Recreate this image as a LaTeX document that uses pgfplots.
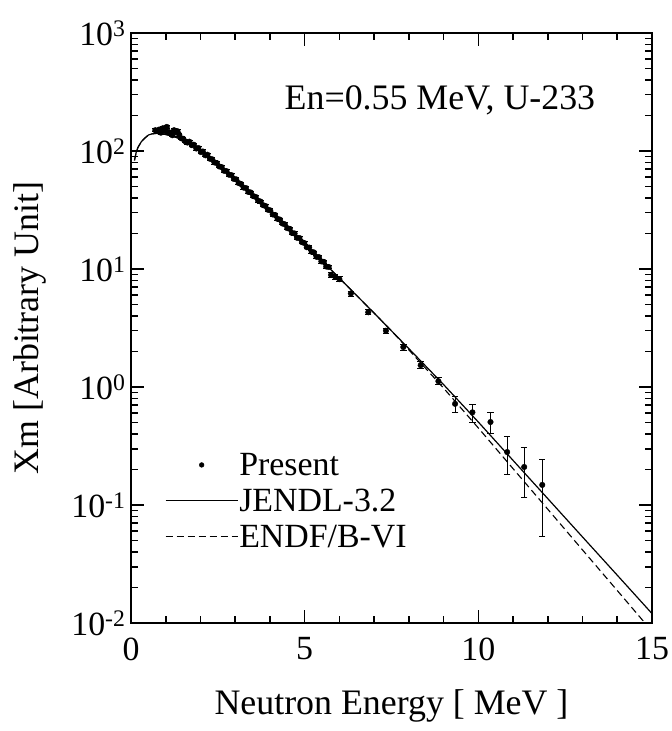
\documentclass[border=0pt]{standalone}
\usepackage{fontspec}
\setmainfont{Liberation Serif}
\usepackage{pgfplots}
\usepackage{pgfplotstable}
\pgfplotsset{compat=1.18}

\pgfplotstableread{
E y err
0.70 150 4.5
0.76 147 4.4
0.81 152 4.6
0.86 143 4.3
0.92 156 4.7
0.97 148 4.4
1.03 160 4.8
1.08 145 4.4
1.13 141 4.2
1.19 136 4.1
1.24 150 4.5
1.29 144 4.3
1.34 147 4.4
1.39 137 4.1
1.45 128 3.8
1.50 127 3.8
1.56 121 3.6
1.62 118 3.5
1.68 120 3.6
1.75 112 3.4
1.81 113 3.4
1.88 105 3.2
1.94 106 3.2
2.01 98 2.9
2.07 99 3.0
2.14 92 2.8
2.20 93 2.8
2.27 86 2.6
2.34 85 2.6
2.40 80 2.4
2.47 79 2.4
2.54 74 2.2
2.61 73 2.2
2.68 68 2.0
2.75 67.5 2.0
2.82 63 1.9
2.89 62.5 1.9
2.96 58 1.7
3.03 57.5 1.7
3.10 53.5 1.6
3.17 52.5 1.6
3.24 49 1.5
3.31 48.5 1.5
3.38 45 1.4
3.45 44.5 1.3
3.52 41.5 1.2
3.59 40.8 1.2
3.66 38 1.1
3.73 37.3 1.1
3.80 34.8 1.0
3.87 34.2 1.0
3.94 31.8 1.0
4.01 31.4 0.9
4.08 29.0 0.9
4.15 28.7 0.9
4.22 26.6 0.8
4.29 26.2 0.8
4.36 24.3 0.7
4.43 23.9 0.7
4.50 22.2 0.7
4.57 21.9 0.7
4.64 20.2 0.6
4.71 20.0 0.6
4.78 18.4 0.6
4.85 18.3 0.6
4.92 16.9 0.5
4.99 16.6 0.5
5.06 15.3 0.5
5.13 15.2 0.5
5.20 14.0 0.4
5.27 13.8 0.4
5.34 12.7 0.4
5.41 12.6 0.4
5.48 11.6 0.4
5.55 11.5 0.4
5.62 10.5 0.4
5.69 10.4 0.4
5.76 8.9 0.4
5.88 8.6 0.4
6.00 8.2 0.4
6.33 6.2 0.3
6.83 4.3 0.2
7.34 3.0 0.15
7.84 2.18 0.13
8.34 1.53 0.10
8.85 1.12 0.08
9.33 0.72 0.11
9.83 0.61 0.105
10.35 0.505 0.105
10.83 0.281 0.10
11.32 0.210 0.095
11.84 0.148 0.094
}\present

\pgfplotstableread{
E y
0.1 83.2
0.15 97.7
0.2 107.2
0.3 120.2
0.4 128.8
0.5 136.5
0.6 139.6
0.75 141.3
0.9 139.6
1.0 138.0
1.2 133.4
1.4 127.4
1.6 120.2
1.8 111.4
2.0 100.9
2.5 77.1
3.0 57.8
3.5 42.7
4.0 31.2
4.5 22.6
5.0 16.3
5.5 11.7
6.0 8.36
7.0 4.23
7.5 2.991
8.0 2.113
9.0 1.048
10 0.5047
11 0.2388
12 0.1132
13 0.05358
14 0.02541
15 0.01202
}\jendl

\pgfplotstableread{
E y
0.1 83.2
0.15 97.7
0.2 107.2
0.3 120.2
0.4 128.8
0.5 136.5
0.6 139.6
0.75 141.3
0.9 139.6
1.0 138.0
1.2 133.4
1.4 127.4
1.6 120.2
1.8 111.4
2.0 100.9
2.5 77.1
3.0 57.8
3.5 42.7
4.0 31.2
4.5 22.6
5.0 16.3
5.5 11.7
6.0 8.36
7.0 4.23
7.5 2.991
8.0 2.064
9.0 0.978
10 0.4498
11 0.2032
12 0.09204
13 0.04159
14 0.01884
15 0.008511
}\endf

\begin{document}
\begin{tikzpicture}
\begin{semilogyaxis}[
  scale only axis, width=521bp, height=590bp,
  xmin=0, xmax=15, ymin=1e-2, ymax=1e3,
  xtick={0,5,10,15}, xticklabels={0,5,10,15},
  minor xtick={1,2,3,4,6,7,8,9,11,12,13,14},
  ytick={1e-2,1e-1,1,1e1,1e2,1e3},
  yticklabels={10\textsuperscript{-2},10\textsuperscript{-1},10\textsuperscript{0},10\textsuperscript{1},10\textsuperscript{2},10\textsuperscript{3}},
  tick align=inside, major tick length=13bp, minor tick length=7bp,
  every tick/.style={black, line width=1.6bp},
  axis line style={line width=2bp},
  tick label style={font=\fontsize{34}{36}\selectfont},
  xticklabel style={yshift=-11bp},
  yticklabel style={xshift=-2bp},
  label style={font=\fontsize{36}{40}\selectfont},
  xlabel={Neutron Energy [ MeV ]},
  ylabel={Xm [Arbitrary Unit]},
  xlabel style={yshift=-22bp},
  ylabel style={yshift=18bp},
  legend image code/.code={\draw[#1] (0bp,0bp) -- (72bp,0bp);},
  legend style={draw=none, fill=none, at={(0.065,0.29)}, anchor=north west,
    font=\fontsize{34}{38}\selectfont, inner sep=0pt, row sep=10bp,
    nodes={inner sep=1bp}},
  legend cell align=left,
  clip=true,
]
\addplot+[black, only marks, mark=*, mark size=2.8bp, mark options={fill=black},
  legend image code/.code={\fill[black] (36bp,0bp) circle (2.4bp);},
  error bars/.cd, y dir=both, y explicit,
  error mark options={rotate=90, mark size=3.2bp, line width=1bp, black},
  error bar style={line width=1bp, black}]
  table[x=E, y=y, y error=err] {\present};
\addlegendentry{Present}
\addplot[black, line width=1.2bp, no marks] table[x=E, y=y] {\jendl};
\addlegendentry{JENDL-3.2}
\addplot[black, line width=1.1bp, no marks, dash pattern=on 7bp off 4bp] table[x=E, y=y] {\endf};
\addlegendentry{ENDF/B-VI}
\node[font=\fontsize{36}{40}\selectfont] at (rel axis cs:0.593,0.886) {En=0.55 MeV, U-233};
\end{semilogyaxis}
\pgfresetboundingbox
\path ([xshift=-131bp,yshift=-108bp]current axis.south west) rectangle ([xshift=20bp,yshift=33bp]current axis.north east);
\end{tikzpicture}
\end{document}
